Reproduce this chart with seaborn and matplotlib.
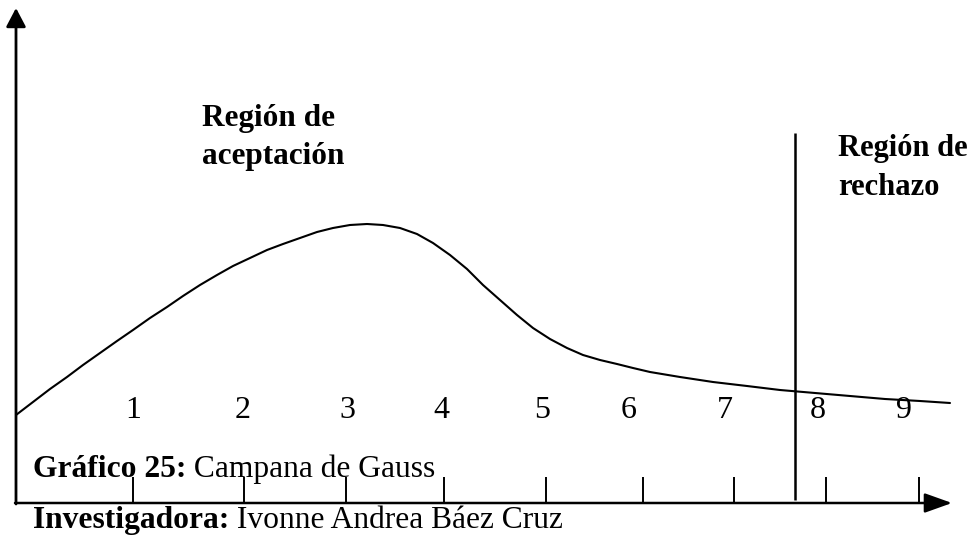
import pandas as pd
import matplotlib.pyplot as plt
import seaborn as sns
import numpy as np

# figura 977x538 px
plt.rcParams['figure.figsize'] = [9.77, 5.38]
plt.rcParams['figure.dpi'] = 100
plt.rcParams['figure.facecolor'] = 'white'

sns.set_theme(style="white")
plt.rcParams['font.family'] = ['Liberation Serif', 'DejaVu Serif']
plt.rcParams['text.color'] = 'black'

# curva (x horizontal, altura sobre el eje x)
curve_x = [16, 33, 50, 67, 83, 100, 117, 133, 150, 167, 183, 200, 217, 233, 250,
           267, 283, 300, 317, 333, 350, 367, 383, 400, 417, 433, 450, 467, 483,
           500, 517, 533, 550, 567, 583, 600, 617, 633, 650, 680, 713, 747, 780,
           815, 850, 885, 920, 950]
curve_h = [88, 101, 114, 126, 138, 150, 162, 173, 185, 196, 207, 218, 228, 237, 245,
           253, 259, 265, 271, 275, 278, 279, 278, 275, 269, 260, 248, 234, 218,
           203, 188, 175, 164, 155, 148, 143, 139, 135, 131, 126, 121, 117, 113,
           110, 107, 104, 102, 100]

# marcas del eje x y numeros
tick_pos = [133, 244, 346, 444, 546, 643, 734, 826, 919]
label_pos = [133, 243, 347, 441, 542, 629, 725, 818, 904]
tick_labels = ['1', '2', '3', '4', '5', '6', '7', '8', '9']

# limite region de rechazo
critical_x = 795

df = pd.DataFrame({'x': curve_x, 'h': curve_h})

fig = plt.figure()
ax = fig.add_axes([0, 0, 1, 1])
ax.set_xlim(0, 977)
ax.set_ylim(-35, 503)
ax.axis('off')

# ejes con flechas
ax.annotate('', xy=(16, 495), xytext=(16, -1),
            arrowprops=dict(arrowstyle='-|>,head_length=0.95,head_width=0.5',
                            lw=2, color='black', shrinkA=0, shrinkB=0))
ax.annotate('', xy=(952, 0), xytext=(15, 0),
            arrowprops=dict(arrowstyle='-|>,head_length=1.4,head_width=0.5',
                            lw=1.8, color='black', shrinkA=0, shrinkB=0))

# curva
sns.lineplot(data=df, x='x', y='h', color='black', lw=1.5, ax=ax, sort=False)

# marcas
ax.vlines(tick_pos, 0, 26, color='black', lw=1.4)
for xp, lab in zip(label_pos, tick_labels):
    ax.text(xp, 92, lab, ha='center', va='center', fontsize=23, color='black')

# linea critica
ax.vlines(critical_x, 3, 370, color='black', lw=1.8)

# etiquetas de regiones
ax.text(202, 377, 'Región de', fontsize=22.5, fontweight='bold', va='baseline', color='black')
ax.text(202, 339, 'aceptación', fontsize=22.5, fontweight='bold', va='baseline', color='black')
ax.text(838, 347, 'Región de', fontsize=22, fontweight='bold', va='baseline', color='black')
ax.text(838, 308, 'rechazo', fontsize=22, fontweight='bold', va='baseline', color='black')

# pie del grafico
t1 = ax.text(33, 26, 'Gráfico 25:', fontsize=22.7, fontweight='bold', va='baseline', color='black')
ax.annotate(' Campana de Gauss', xy=(1, 0), xycoords=t1, fontsize=22.7,
            va='bottom', ha='left', color='black')
t2 = ax.text(33, -25, 'Investigadora:', fontsize=22.7, fontweight='bold', va='baseline', color='black')
ax.annotate(' Ivonne Andrea Báez Cruz', xy=(1, 0), xycoords=t2, fontsize=22.7,
            va='bottom', ha='left', color='black')

plt.savefig('out.png', dpi=100)
